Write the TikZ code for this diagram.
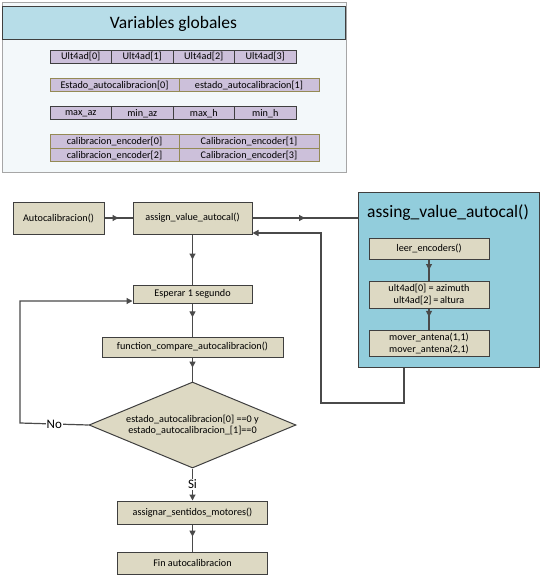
\documentclass[tikz,border=0pt]{standalone}
\usepackage{fontspec}
\setmainfont{Carlito}
\usepackage{tikz}
\usetikzlibrary{shapes.geometric, arrows.meta, positioning, decorations.markings}
\definecolor{panelbg}{HTML}{F3F8FA}
\definecolor{panelline}{HTML}{A6A6A6}
\definecolor{titlebg}{HTML}{B7DDE8}
\definecolor{cellbg}{HTML}{CCC0DA}
\definecolor{darkline}{HTML}{3F3F3F}
\definecolor{tanline}{HTML}{948A54}
\definecolor{stepbg}{HTML}{DDD9C3}
\definecolor{subbg}{HTML}{92CDDC}
\definecolor{wire}{HTML}{4A4A4A}
\tikzset{
  cell/.style={
    rectangle, inner sep=0pt,
    minimum width=61.5pt, minimum height=13pt,
    draw=darkline, line width=1pt,
    fill=cellbg, font=\fontsize{10.2}{11}\selectfont,
  },
  tancell/.style={cell, draw=tanline},
  stepbox/.style={
    rectangle, inner sep=0pt, align=center,
    draw=darkline, line width=1pt,
    fill=stepbg, font=\fontsize{10.2}{12}\selectfont,
  },
  decision/.style={
    diamond, aspect=2.4, inner sep=0pt, align=center,
    minimum width=207pt, minimum height=86pt,
    draw=darkline, line width=1pt,
    fill=stepbg, font=\fontsize{10.2}{11.5}\selectfont,
  },
  line/.style={draw=wire, line width=1.2pt},
  arrow/.style={line, -{Triangle[length=6pt,width=6pt]}},
  midarrow/.style={line, postaction={decorate}, decoration={markings,
    mark=at position #1 with {\arrow{Triangle[length=6pt,width=6pt]}}}},
  lbl/.style={fill=white, inner sep=1pt, font=\fontsize{13}{14}\selectfont},
}

\begin{document}
\begin{tikzpicture}[x=1pt, y=-1pt]
  \useasboundingbox (0,0) rectangle (541,577);

  % global variables panel
  \draw[draw=panelline, fill=panelbg] (2,2) rectangle (346,172);
  \node[rectangle, draw=darkline, line width=1pt, fill=titlebg,
        minimum width=343pt, minimum height=33pt,
        font=\fontsize{17.5}{18}\selectfont] (globtitle) at (173.5,23.5) {Variables globales};

  \foreach \i/\xc in {0/80.75, 1/142.25, 2/203.75, 3/265.25}
    \node[cell] (ult\i) at (\xc,57) {Ult4ad[\i]};

  \node[tancell, minimum width=129pt] (est0) at (114.5,85.5) {Estado\_autocalibracion[0]};
  \node[tancell, minimum width=140pt] (est1) at (249,85.5) {estado\_autocalibracion[1]};

  \node[cell] (maxaz) at (80.75,113.5) {max\_az};
  \node[cell] (minaz) at (142.25,113.5) {min\_az};
  \node[cell] (maxh) at (203.75,113.5) {max\_h};
  \node[cell] (minh) at (265.25,113.5) {min\_h};

  \node[tancell, minimum width=129pt, minimum height=13.5pt] (enc0) at (114.5,141.75) {calibracion\_encoder[0]};
  \node[tancell, minimum width=140pt, minimum height=13.5pt] (enc1) at (249,141.75) {Calibracion\_encoder[1]};
  \node[tancell, minimum width=129pt, minimum height=13.5pt] (enc2) at (114.5,155.25) {calibracion\_encoder[2]};
  \node[tancell, minimum width=140pt, minimum height=13.5pt] (enc3) at (249,155.25) {Calibracion\_encoder[3]};

  % main flow
  \node[stepbox, minimum width=91pt, minimum height=32pt] (auto) at (58.5,218) {Autocalibracion()};
  \node[stepbox, minimum width=119pt, minimum height=32pt] (assign) at (192.5,218) {assign\_value\_autocal()};
  \node[stepbox, minimum width=119pt, minimum height=18pt, below=50pt of assign] (wait) {Esperar 1 segundo};
  \node[stepbox, minimum width=181pt, minimum height=20pt, below=33pt of wait] (compare) {function\_compare\_autocalibracion()};
  \node[decision, below=24pt of compare] (check) {estado\_autocalibracion[0] ==0 y\\estado\_autocalibracion\_[1]==0};
  \node[stepbox, minimum width=150pt, minimum height=23pt, below=32pt of check] (motors) {assignar\_sentidos\_motores()};
  \node[stepbox, minimum width=150pt, minimum height=22pt, below=27pt of motors] (fin) {Fin autocalibracion};

  % sub-process panel
  \node[rectangle, draw=darkline, line width=1pt, fill=subbg,
        minimum width=181pt, minimum height=174pt] (sub) at (448.5,280) {};
  \node[font=\fontsize{17.5}{18}\selectfont, anchor=west, inner sep=0pt] (subtitle) at (367,213) {assing\_value\_autocal()};
  \node[stepbox, minimum width=120pt, minimum height=21pt] (leer) at (429,248.5) {leer\_encoders()};
  \node[stepbox, minimum width=120pt, minimum height=27pt, below=21pt of leer] (ultset) {ult4ad[0] = azimuth\\ult4ad[2]\,=\,altura};
  \node[stepbox, minimum width=120pt, minimum height=26pt, below=21pt of ultset] (mover) {mover\_antena(1,1)\\mover\_antena(2,1)};

  \coordinate (back1) at (404,403);
  \coordinate (back2) at (321,403);
  \coordinate (back3) at (321,233);
  \coordinate (loop1) at (20,423);
  \coordinate (loop2) at (20,301);

  \draw[midarrow=0.5] (auto) -- (assign);
  \draw[midarrow=0.5] (assign.east) -- (sub.west |- assign.east);
  \draw[arrow] (sub.south -| back1) -- (back1) -- (back2) -- (back3) -- (back3 -| assign.east);
  \draw[midarrow=0.5] (assign) -- (wait);
  \draw[midarrow=0.42] (wait) -- (compare);
  \draw[midarrow=0.42] (compare) -- (check);
  \draw[arrow] (check.west) -- node[lbl] {No} (loop1) -- (loop2) -- (loop2 -| wait.west);
  \draw[arrow] (check.south) -- node[lbl] {Si} (motors);
  \draw[midarrow=0.45] (motors) -- (fin);
  \draw[midarrow=0.5] (leer) -- (ultset);
  \draw[midarrow=0.4] (ultset) -- (mover);

\end{tikzpicture}
\end{document}
